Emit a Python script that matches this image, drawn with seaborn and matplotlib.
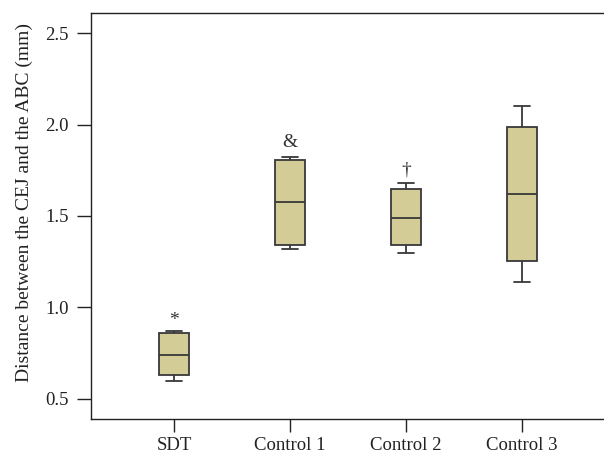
import matplotlib
matplotlib.use("Agg")
import matplotlib.pyplot as plt
import seaborn as sns
import pandas as pd

# Five-number summaries per group: [min, Q1, median, Q3, max]
categories = ["SDT", "Control 1", "Control 2", "Control 3"]
sdt = [0.60, 0.633, 0.74, 0.86, 0.87]
control1 = [1.32, 1.342, 1.575, 1.804, 1.824]
control2 = [1.30, 1.342, 1.491, 1.646, 1.682]
control3 = [1.139, 1.256, 1.622, 1.985, 2.103]
markers = ["*", "&", "\u2020", ""]
marker_y = [0.93, 1.90, 1.75, None]
yticks = [0.5, 1.0, 1.5, 2.0, 2.5]

values = [sdt, control1, control2, control3]
df = pd.DataFrame({
    "group": [c for c, v in zip(categories, values) for _ in v],
    "value": [x for v in values for x in v],
})

sns.set_style("ticks")
plt.rcParams["font.family"] = ["Liberation Serif", "DejaVu Serif"]

fig = plt.figure(figsize=(6.04, 4.57), dpi=100)
ax = fig.add_axes([0.1507, 0.0832, 0.8493, 0.8884])

sns.boxplot(data=df, x="group", y="value", order=categories, ax=ax,
            color="#d3cc96", saturation=1, width=0.265, linecolor="#383838",
            linewidth=1.3, whis=3.0, fliersize=0)

for i, (m, y) in enumerate(zip(markers, marker_y)):
    if m:
        ax.text(i, y, m, ha="center", va="center", fontsize=14, color="#333333")

ax.set_xlim(-0.716, 3.707)
ax.set_ylim(0.39, 2.61)
ax.set_yticks(yticks)
ax.set_yticklabels([f"{t:.1f}" for t in yticks])
ax.set_xlabel("")
ax.set_ylabel("Distance between the CEJ and the ABC (mm)", fontsize=14, color="#222222")
ax.yaxis.set_label_coords(-0.113, 0.534)
ax.tick_params(axis="both", labelsize=13.5, colors="#222222", direction="out", width=1.0)
ax.tick_params(axis="y", length=10, pad=6)
ax.tick_params(axis="x", length=9, pad=4)
for s in ["left", "top", "bottom"]:
    ax.spines[s].set_visible(True)
    ax.spines[s].set_color("#222222")
    ax.spines[s].set_linewidth(1.0)
ax.spines["right"].set_visible(False)

fig.savefig("out.png", dpi=100)
